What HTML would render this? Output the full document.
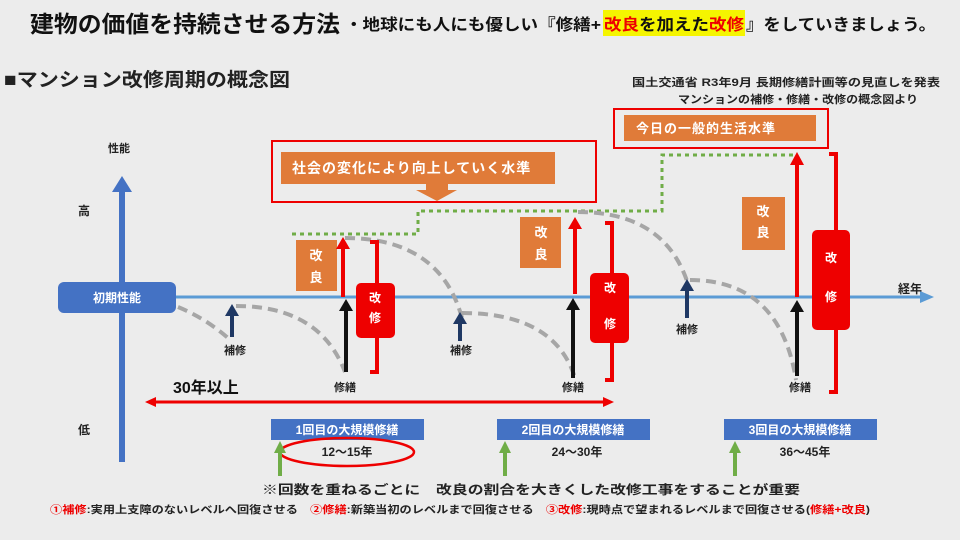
<!DOCTYPE html>
<html><head><meta charset="utf-8"><style>
body{margin:0;width:960px;height:540px;overflow:hidden;background:#ececec}
svg{display:block}
text{font-family:"Liberation Sans","Noto Sans CJK JP",sans-serif;font-weight:bold}
</style></head><body>
<svg width="960" height="540" viewBox="0 0 960 540">
<rect width="960" height="540" fill="#ececec"/>
<rect x="603" y="10" width="142" height="26" fill="#f5f500"/>
<text x="30" y="32" font-size="23" fill="#111" textLength="310" lengthAdjust="spacingAndGlyphs">建物の価値を持続させる方法</text>
<text x="345" y="30" font-size="16" fill="#111" textLength="256" lengthAdjust="spacingAndGlyphs">・地球にも人にも優しい『修繕+</text>
<text x="604" y="30" font-size="16" fill="#111" textLength="140" lengthAdjust="spacingAndGlyphs"><tspan fill="#e00">改良</tspan>を加えた<tspan fill="#e00">改修</tspan></text>
<text x="746" y="30" font-size="16" fill="#111" textLength="190" lengthAdjust="spacingAndGlyphs">』をしていきましょう。</text>
<text x="4" y="86" font-size="19" fill="#222" textLength="286" lengthAdjust="spacingAndGlyphs">■マンション改修周期の概念図</text>
<text x="940" y="86" font-size="11" fill="#222" text-anchor="end" textLength="308" lengthAdjust="spacingAndGlyphs">国土交通省 R3年9月 長期修繕計画等の見直しを発表</text>
<text x="918" y="103" font-size="11" fill="#222" text-anchor="end" textLength="240" lengthAdjust="spacingAndGlyphs">マンションの補修・修繕・改修の概念図より</text>

<!-- axes -->
<rect x="119" y="190" width="6" height="272" fill="#4472c4"/>
<polygon points="122,176 112,192 132,192" fill="#4472c4"/>
<text x="108" y="152" font-size="11" fill="#222">性能</text>
<text x="78" y="215" font-size="12" fill="#222">高</text>
<text x="78" y="434" font-size="12" fill="#222">低</text>
<line x1="176" y1="297" x2="922" y2="297" stroke="#5b9bd5" stroke-width="3"/>
<polygon points="934,297 920,291 920,303" fill="#5b9bd5"/>
<text x="898" y="293" font-size="12" fill="#222">経年</text>
<rect x="58" y="282" width="118" height="31" rx="6" fill="#4472c4"/>
<text x="117" y="302" font-size="12" fill="#fff" text-anchor="middle">初期性能</text>

<!-- top boxes -->
<rect x="272" y="141" width="324" height="61" fill="none" stroke="#e00" stroke-width="2"/>
<rect x="281" y="152" width="274" height="32" fill="#e07b39"/>
<text x="292" y="173" font-size="14" fill="#fff" letter-spacing="1">社会の変化により向上していく水準</text>
<polygon points="426,184 448,184 448,190 457,190 437,201 416,190 426,190" fill="#e07b39"/>
<rect x="614" y="109" width="214" height="39" fill="none" stroke="#e00" stroke-width="2"/>
<rect x="624" y="115" width="192" height="26" fill="#e07b39"/>
<text x="636" y="133" font-size="13" fill="#fff" letter-spacing="1">今日の一般的生活水準</text>

<!-- green dotted -->
<polyline points="292,234 418,234 418,211 662,211 662,155 795,155" fill="none" stroke="#70ad47" stroke-width="3" stroke-dasharray="4,4"/>

<!-- gray dashed curves -->
<g fill="none" stroke="#a6a6a6" stroke-width="4" stroke-dasharray="10,6">
<path d="M178,307 Q205,318 228,338"/>
<path d="M236,306 Q320,306 345,372"/>
<path d="M345,238 Q440,238 462,318"/>
<path d="M462,313 Q555,313 575,378"/>
<path d="M578,212 Q665,212 688,284"/>
<path d="M690,280 Q780,280 796,380"/>
</g>

<!-- blue small arrows -->
<g fill="#1f3864">
<rect x="230" y="315" width="4" height="22"/><polygon points="232,304 225,316 239,316"/>
<rect x="458" y="323" width="4" height="18"/><polygon points="460,312 453,324 467,324"/>
<rect x="685" y="290" width="4" height="28"/><polygon points="687,279 680,291 694,291"/>
</g>
<text x="235" y="354" font-size="11" fill="#222" text-anchor="middle">補修</text>
<text x="461" y="354" font-size="11" fill="#222" text-anchor="middle">補修</text>
<text x="687" y="333" font-size="11" fill="#222" text-anchor="middle">補修</text>

<!-- event 1 -->
<rect x="296" y="240" width="41" height="51" fill="#e07b39"/>
<text x="316" y="260" font-size="13" fill="#fff" text-anchor="middle">改</text>
<text x="316" y="282" font-size="13" fill="#fff" text-anchor="middle">良</text>
<rect x="341" y="248" width="4" height="49" fill="#e00"/><polygon points="343,237 336,249 350,249" fill="#e00"/>
<rect x="344" y="310" width="4" height="62" fill="#111"/><polygon points="346,299 339,311 353,311" fill="#111"/>
<polyline points="370,242 377,242 377,372 370,372" fill="none" stroke="#e00" stroke-width="4"/>
<rect x="356" y="283" width="39" height="55" rx="5" fill="#e00"/>
<text x="375" y="302" font-size="12" fill="#fff" text-anchor="middle">改</text>
<text x="375" y="322" font-size="12" fill="#fff" text-anchor="middle">修</text>
<text x="345" y="391" font-size="11" fill="#222" text-anchor="middle">修繕</text>

<!-- event 2 -->
<rect x="520" y="217" width="41" height="51" fill="#e07b39"/>
<text x="541" y="237" font-size="13" fill="#fff" text-anchor="middle">改</text>
<text x="541" y="259" font-size="13" fill="#fff" text-anchor="middle">良</text>
<rect x="573" y="228" width="4" height="66" fill="#e00"/><polygon points="575,217 568,229 582,229" fill="#e00"/>
<rect x="571" y="310" width="4" height="68" fill="#111"/><polygon points="573,298 566,310 580,310" fill="#111"/>
<polyline points="605,223 612,223 612,380 605,380" fill="none" stroke="#e00" stroke-width="4"/>
<rect x="590" y="273" width="39" height="70" rx="5" fill="#e00"/>
<text x="610" y="292" font-size="12" fill="#fff" text-anchor="middle">改</text>
<text x="610" y="328" font-size="12" fill="#fff" text-anchor="middle">修</text>
<text x="573" y="391" font-size="11" fill="#222" text-anchor="middle">修繕</text>

<!-- event 3 -->
<rect x="742" y="197" width="43" height="53" fill="#e07b39"/>
<text x="763" y="216" font-size="13" fill="#fff" text-anchor="middle">改</text>
<text x="763" y="237" font-size="13" fill="#fff" text-anchor="middle">良</text>
<rect x="795" y="164" width="4" height="133" fill="#e00"/><polygon points="797,152 790,165 804,165" fill="#e00"/>
<rect x="795" y="312" width="4" height="64" fill="#111"/><polygon points="797,300 790,312 804,312" fill="#111"/>
<polyline points="829,154 836,154 836,392 829,392" fill="none" stroke="#e00" stroke-width="4"/>
<rect x="812" y="230" width="38" height="100" rx="5" fill="#e00"/>
<text x="831" y="262" font-size="12" fill="#fff" text-anchor="middle">改</text>
<text x="831" y="301" font-size="12" fill="#fff" text-anchor="middle">修</text>
<text x="800" y="391" font-size="11" fill="#222" text-anchor="middle">修繕</text>

<!-- 30 years -->
<text x="173" y="393" font-size="16" fill="#111">30年以上</text>
<line x1="152" y1="402" x2="607" y2="402" stroke="#e00" stroke-width="3"/>
<polygon points="145,402 156,397 156,407" fill="#e00"/>
<polygon points="614,402 603,397 603,407" fill="#e00"/>

<!-- bottom boxes -->
<rect x="271" y="419" width="153" height="21" fill="#4472c4"/>
<text x="347" y="434" font-size="12" fill="#fff" text-anchor="middle">1回目の大規模修繕</text>
<rect x="497" y="419" width="153" height="21" fill="#4472c4"/>
<text x="573" y="434" font-size="12" fill="#fff" text-anchor="middle">2回目の大規模修繕</text>
<rect x="724" y="419" width="153" height="21" fill="#4472c4"/>
<text x="800" y="434" font-size="12" fill="#fff" text-anchor="middle">3回目の大規模修繕</text>
<text x="347" y="456" font-size="12" fill="#222" text-anchor="middle">12〜15年</text>
<text x="577" y="456" font-size="12" fill="#222" text-anchor="middle">24〜30年</text>
<text x="805" y="456" font-size="12" fill="#222" text-anchor="middle">36〜45年</text>
<ellipse cx="347" cy="452" rx="67" ry="14" fill="none" stroke="#e00" stroke-width="2.5"/>
<g fill="#70ad47">
<rect x="278" y="452" width="4" height="24"/><polygon points="280,441 274,453 286,453"/>
<rect x="503" y="452" width="4" height="24"/><polygon points="505,441 499,453 511,453"/>
<rect x="733" y="452" width="4" height="24"/><polygon points="735,441 729,453 741,453"/>
</g>
<text x="262" y="494" font-size="12.5" fill="#222" textLength="538" lengthAdjust="spacingAndGlyphs">※回数を重ねるごとに　改良の割合を大きくした改修工事をすることが重要</text>
<text x="50" y="513" font-size="10.5" fill="#222" textLength="820" lengthAdjust="spacingAndGlyphs"><tspan fill="#e00">①補修</tspan>:実用上支障のないレベルへ回復させる　<tspan fill="#e00">②修繕</tspan>:新築当初のレベルまで回復させる　<tspan fill="#e00">③改修</tspan>:現時点で望まれるレベルまで回復させる(<tspan fill="#e00">修繕+改良</tspan>)</text>
</svg>
</body></html>
